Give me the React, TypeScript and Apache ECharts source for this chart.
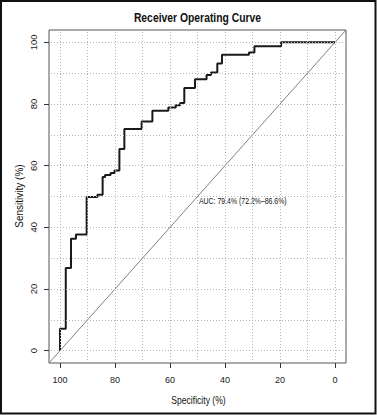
import React, { useEffect, useRef } from "react";
import * as echarts from "echarts";

// ROC curve vertices (specificity %, sensitivity %)
const specificity = [
  100, 100, 97.9, 97.9, 96, 96, 94.2, 94.2, 90.3, 90.3, 86.4, 86.4, 84.5, 84.5,
  83.6, 83.6, 81.6, 81.6, 80.2, 80.2, 78.4, 78.4, 76.6, 76.6, 70.3, 70.3, 66.4,
  66.4, 60.6, 60.6, 57.9, 57.9, 56.3, 56.3, 54.8, 54.8, 50.9, 50.9, 46.7, 46.7,
  45.1, 45.1, 42.8, 42.8, 41.1, 41.1, 31.3, 31.3, 29.3, 29.3, 19.6, 19.6, 0,
];
const sensitivity = [
  0, 7.1, 7.1, 26.8, 26.8, 36.3, 36.3, 37.7, 37.7, 49.8, 49.8, 50.6, 50.6, 56.3,
  56.3, 57.0, 57.0, 57.6, 57.6, 58.4, 58.4, 65.4, 65.4, 71.9, 71.9, 74.3, 74.3,
  77.8, 77.8, 78.9, 78.9, 79.6, 79.6, 80.3, 80.3, 85.2, 85.2, 88.0, 88.0, 89.4,
  89.4, 90.2, 90.2, 93.1, 93.1, 96.0, 96.0, 96.7, 96.7, 98.7, 98.7, 100, 100,
];
const tickValues = [0, 20, 40, 60, 80, 100];
const gridValues = [0, 10, 20, 30, 40, 50, 60, 70, 80, 90, 100];
const diagonal = [
  [104, -4],
  [-4, 104],
];
const titleText = "Receiver Operating Curve";
const xName = "Specificity (%)";
const yName = "Sensitivity (%)";
const aucText = "AUC: 79.4% (72.2%\u201386.6%)";

const FONT = "Liberation Sans, Arial, sans-serif";

export default function App() {
  const ref = useRef<HTMLDivElement>(null);
  useEffect(() => {
    if (!ref.current) return;
    const chart = echarts.init(ref.current, undefined, { renderer: "svg" });
    const axisCommon = {
      type: "value",
      min: -4,
      max: 104,
      axisLine: { show: false, onZero: false },
      splitLine: { show: false },
      axisTick: {
        show: true,
        customValues: tickValues,
        length: 5,
        lineStyle: { color: "#333", width: 1 },
      },
    };
    chart.setOption({
      animation: false,
      backgroundColor: "#fff",
      grid: {
        left: 49,
        top: 30,
        width: 297,
        height: 333,
        show: true,
        borderColor: "#555",
        borderWidth: 1,
        backgroundColor: "transparent",
      },
      xAxis: {
        ...axisCommon,
        inverse: true,
        axisLabel: {
          customValues: tickValues,
          fontSize: 9,
          color: "#222",
          margin: 12,
          fontFamily: FONT,
        },
      },
      yAxis: {
        ...axisCommon,
        axisLabel: {
          customValues: tickValues,
          fontSize: 9.5,
          color: "#222",
          margin: 11,
          rotate: 90,
          fontFamily: FONT,
        },
      },
      series: [
        {
          type: "line",
          data: diagonal,
          symbol: "none",
          silent: true,
          z: 2,
          lineStyle: { color: "#808080", width: 1 },
          markLine: {
            silent: true,
            symbol: ["none", "none"],
            label: { show: false },
            lineStyle: { color: "#b5b5b5", width: 1, type: [1, 2] },
            data: [
              ...gridValues.map((v) => ({ xAxis: v })),
              ...gridValues.map((v) => ({ yAxis: v })),
            ],
          },
        },
        {
          type: "line",
          data: specificity.map((s, i) => [s, sensitivity[i]]),
          symbol: "none",
          silent: true,
          z: 3,
          lineStyle: { color: "#1a1a1a", width: 2 },
        },
      ],
      graphic: [
        {
          type: "rect",
          shape: { x: 1, y: 1, width: 374.5, height: 412.5 },
          style: { fill: "none", stroke: "#111", lineWidth: 2 },
          silent: true,
        },
        {
          type: "text",
          x: 197.5,
          y: 18,
          scaleX: 0.83,
          style: {
            text: titleText,
            fontSize: 12.5,
            fontWeight: "bold",
            fontFamily: FONT,
            fill: "#111",
            textAlign: "center",
            textVerticalAlign: "middle",
          },
        },
        {
          type: "text",
          x: 198.5,
          y: 401,
          scaleX: 0.86,
          style: {
            text: xName,
            fontSize: 10,
            fontFamily: FONT,
            fill: "#111",
            textAlign: "center",
            textVerticalAlign: "middle",
          },
        },
        {
          type: "text",
          x: 19,
          y: 196,
          rotation: Math.PI / 2,
          style: {
            text: yName,
            fontSize: 10,
            fontFamily: FONT,
            fill: "#111",
            textAlign: "center",
            textVerticalAlign: "middle",
          },
        },
        {
          type: "text",
          x: 199,
          y: 201,
          scaleX: 0.77,
          style: {
            text: aucText,
            fontSize: 9,
            fontFamily: FONT,
            fill: "#111",
            textAlign: "left",
            textVerticalAlign: "middle",
          },
        },
      ],
    });
    return () => chart.dispose();
  }, []);
  return (
    <div
      ref={ref}
      style={{ position: "fixed", left: 0, top: 0, width: 377, height: 415 }}
    />
  );
}
